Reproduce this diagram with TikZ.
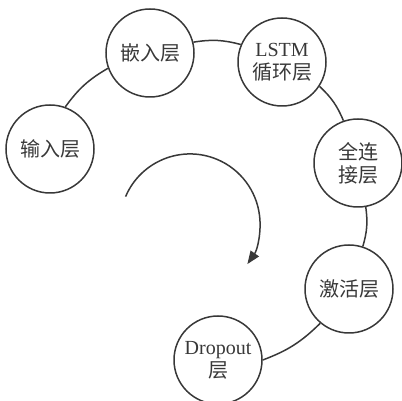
\documentclass[tikz,border=0pt]{standalone}
\usepackage{fontspec}
\setmainfont{Liberation Serif}
\newfontfamily\cjk{Noto Sans CJK SC}
\usetikzlibrary{arrows.meta}
\definecolor{ink}{HTML}{383838}
\begin{document}
\begin{tikzpicture}[x=1pt,y=1pt,
  layer/.style={circle,draw=ink,line width=1.5pt,minimum size=88pt,inner sep=0pt,
    align=center,text=ink,font=\fontsize{20}{25}\selectfont},
  link/.style={draw=ink,line width=1.5pt,bend left=12}]
\useasboundingbox (0,0) rectangle (402,401);
\node[layer] (inp)  at (50,252)  {\cjk 输入层};
\node[layer] (emb)  at (150,348) {\cjk 嵌入层};
\node[layer] (lstm) at (282,339) {LSTM\\[-2pt]{\cjk 循环层}};
\node[layer] (fc)   at (358,238) {\cjk 全连\\[-2pt]\cjk 接层};
\node[layer] (act)  at (349,112) {\cjk 激活层};
\node[layer] (drop) at (218,41)  {Dropout\\[-2pt]{\cjk 层}};
\draw[link] (inp.70) to (emb.200);
\draw[link] (emb.14) to (lstm.157);
\draw[link] (lstm.-33) to (fc.109);
\draw[link] (fc.-80) to (act.72);
\draw[link] (act.-130) to (drop.0);
\coordinate (arcstart) at (125.6,204.4);
\draw[draw=ink,line width=1.5pt,-{Triangle[length=13pt,width=10pt,fill=ink]}]
  (arcstart) arc[start angle=157,end angle=-35,radius=70];
\end{tikzpicture}
\end{document}
